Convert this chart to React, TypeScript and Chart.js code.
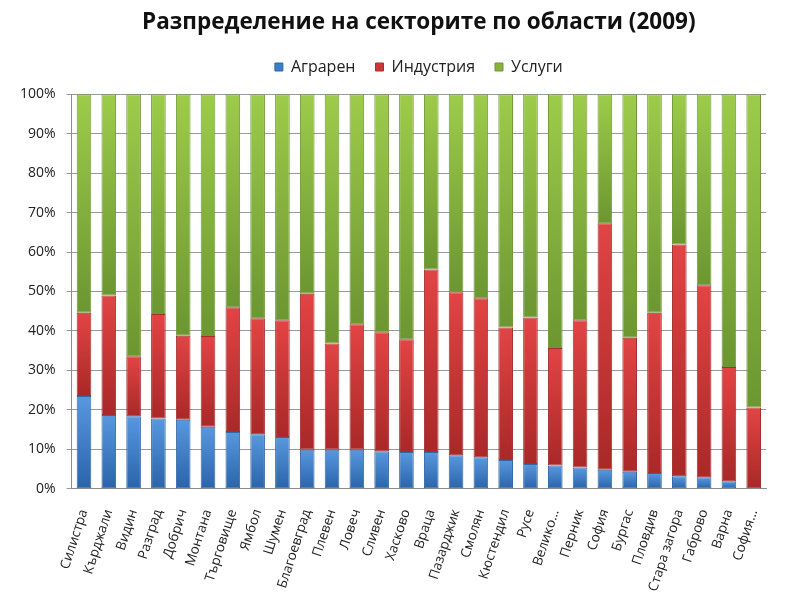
import React, { useEffect, useRef } from "react";
import { Chart, registerables } from "chart.js";

Chart.register(...registerables);

const regions = [
  "Силистра", "Кърджали", "Видин", "Разград", "Добрич", "Монтана", "Търговище",
  "Ямбол", "Шумен", "Благоевград", "Плевен", "Ловеч", "Сливен", "Хасково",
  "Враца", "Пазарджик", "Смолян", "Кюстендил", "Русе", "Велико...", "Перник",
  "София", "Бургас", "Пловдив", "Стара загора", "Габрово", "Варна", "София...",
];

const agrarian = [23.5, 18.7, 18.4, 17.8, 17.5, 15.7, 14.4, 13.8, 13.1, 9.9, 9.9, 9.9, 9.5, 9.3,
  9.3, 8.5, 8.0, 7.3, 6.3, 5.9, 5.4, 4.8, 4.3, 4.0, 3.2, 2.9, 1.9, 0];
const industry = [21.1, 30.3, 15.2, 26.5, 21.3, 23.0, 31.6, 29.4, 29.6, 39.5, 26.9, 31.8, 30.2, 28.6,
  46.3, 41.3, 40.3, 33.6, 37.1, 29.8, 37.3, 62.5, 34.0, 40.6, 58.7, 48.7, 29.0, 20.6];
const services = [55.4, 51.0, 66.4, 55.7, 61.2, 61.3, 54.0, 56.8, 57.3, 50.6, 63.2, 58.3, 60.3, 62.1,
  44.4, 50.2, 51.7, 59.1, 56.6, 64.3, 57.3, 32.7, 61.7, 55.4, 38.1, 48.4, 69.1, 79.4];

const seriesNames = ["Аграрен", "Индустрия", "Услуги"];
const yTicks = [0, 10, 20, 30, 40, 50, 60, 70, 80, 90, 100];

const series = [agrarian, industry, services];
const palettes = [
  { top: "#5898de", mid: "#3d7ec9", bottom: "#2a63aa", border: "#3366a3" },
  { top: "#e24444", mid: "#cc3636", bottom: "#a92828", border: "#a33030" },
  { top: "#9dcc4a", mid: "#88b43e", bottom: "#6b9631", border: "#6f9638" },
];

const FONT = "'Open Sans', 'Noto Sans', sans-serif";

function makeBg(di: number) {
  const pal = palettes[di];
  return (ctx: any) => {
    const chart = ctx.chart;
    const area = chart.chartArea;
    const y = chart.scales && chart.scales.y;
    if (!area || !y || ctx.type !== "data") return pal.mid;
    const i = ctx.dataIndex;
    let start = 0;
    for (let k = 0; k < di; k++) start += series[k][i];
    const end = start + series[di][i];
    const y1 = y.getPixelForValue(end);
    const y0 = y.getPixelForValue(start);
    if (!isFinite(y1) || !isFinite(y0) || y0 - y1 < 1) return pal.mid;
    const g = chart.ctx.createLinearGradient(0, y1, 0, y0);
    g.addColorStop(0, pal.top);
    g.addColorStop(1, pal.bottom);
    return g;
  };
}

export default function App() {
  const ref = useRef<HTMLCanvasElement | null>(null);

  useEffect(() => {
    if (!ref.current) return;
    const chart = new Chart(ref.current, {
      type: "bar",
      data: {
        labels: regions,
        datasets: series.map((s, di) => ({
          label: seriesNames[di],
          data: s,
          backgroundColor: makeBg(di),
          borderColor: palettes[di].border,
          borderWidth: 1,
          borderSkipped: false,
          categoryPercentage: 1,
          barPercentage: 0.59,
        })),
      },
      options: {
        animation: false,
        responsive: true,
        maintainAspectRatio: false,
        layout: { padding: { left: 9, right: 8, top: 0, bottom: 0 } },
        plugins: {
          title: {
            display: true,
            text: "Разпределение на секторите по области (2009)",
            fullSize: false,
            color: "#111",
            font: { family: FONT, size: 22.5, weight: "bold" },
            padding: { top: 9, bottom: 3 },
          },
          subtitle: {
            display: true,
            text: "",
            position: "top",
            weight: 500,
            fullSize: false,
            font: { family: FONT, size: 1 },
            padding: { top: 8, bottom: 0 },
          },
          legend: {
            display: true,
            position: "top",
            fullSize: false,
            labels: {
              color: "#222",
              boxWidth: 8,
              boxHeight: 8,
              padding: 20,
              font: { family: FONT, size: 16 },
              generateLabels: (c: any) => {
                const items = Chart.defaults.plugins.legend.labels.generateLabels(c);
                items.forEach((it: any, k: number) => {
                  it.fillStyle = palettes[k].mid;
                  it.strokeStyle = palettes[k].border;
                  it.lineWidth = 1;
                });
                return items;
              },
            },
          },
          tooltip: { enabled: false },
        },
        scales: {
          x: {
            stacked: true,
            grid: { display: false, drawTicks: false },
            border: { display: true, color: "#8c8c8c", width: 1 },
            ticks: {
              color: "#222",
              font: { family: FONT, size: 13.5 },
              minRotation: 72,
              maxRotation: 72,
              autoSkip: false,
              padding: 18.5,
            },
          },
          y: {
            stacked: true,
            min: 0,
            max: 100,
            afterBuildTicks: (axis: any) => {
              axis.ticks = yTicks.map((v) => ({ value: v }));
            },
            grid: { color: "#9a9a9a", lineWidth: 1, tickLength: 5, drawTicks: true },
            border: { display: true, color: "#8c8c8c", width: 1 },
            ticks: {
              color: "#222",
              font: { family: FONT, size: 14 },
              padding: 11,
              callback: (v: any) => v + "%",
            },
          },
        },
      },
    });
    return () => chart.destroy();
  }, []);

  return (
    <div style={{ position: "fixed", left: 0, top: 0, width: 788, height: 612, background: "#fff" }}>
      <canvas ref={ref} />
    </div>
  );
}
